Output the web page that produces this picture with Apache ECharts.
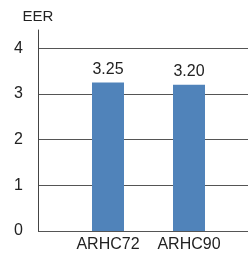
<!DOCTYPE html>
<html><head><meta charset="utf-8">
<script src="https://cdn.jsdelivr.net/npm/echarts@6/dist/echarts.min.js"></script>
<style>html,body{margin:0;padding:0;background:#fff}#c{width:249px;height:253px}</style>
</head><body><div id="c"></div>
<script>
const categories = ['ARHC72', 'ARHC90'];
const eerValues = [3.25, 3.20];
const yTicks = [0, 1, 2, 3, 4];
const axisName = 'EER';

const chart = echarts.init(document.getElementById('c'), null, {renderer: 'canvas'});
const font = 'Liberation Sans, Arial, sans-serif';
chart.setOption({
  animation: false,
  backgroundColor: '#fff',
  grid: [
    {left: 38, right: 1, top: 30, bottom: 22},
    {left: 67.5, right: 19.5, top: 30, bottom: 22}
  ],
  xAxis: [
    {gridIndex: 0, type: 'category', data: [''], show: false},
    {gridIndex: 1, type: 'category', data: categories,
     axisLine: {show: false}, axisTick: {show: false},
     axisLabel: {interval: 0, hideOverlap: false, fontSize: 16, color: '#222', fontFamily: font, margin: 6}}
  ],
  yAxis: [
    {gridIndex: 0, type: 'value', min: 0, max: 4.4, interval: 1,
     name: axisName, nameLocation: 'end', nameGap: 6,
     nameTextStyle: {fontSize: 15, color: '#222', fontFamily: font, align: 'center'},
     axisLine: {show: true, lineStyle: {color: '#444', width: 1}},
     axisTick: {show: false},
     axisLabel: {fontSize: 16, color: '#222', fontFamily: font, margin: 15, showMaxLabel: false,
       formatter: v => yTicks.includes(v) ? String(v) : ''},
     splitLine: {show: true, showMaxLine: false, lineStyle: {color: '#555', width: 1}}},
    {gridIndex: 1, type: 'value', min: 0, max: 4.4, show: false, splitLine: {show: false}}
  ],
  series: [{
    type: 'bar', xAxisIndex: 1, yAxisIndex: 1,
    data: eerValues, barWidth: 32,
    itemStyle: {color: '#5083BA'},
    label: {show: true, position: 'top', distance: 5, fontSize: 16, color: '#222', fontFamily: font,
      formatter: p => p.value.toFixed(2)}
  }]
});
</script></body></html>
